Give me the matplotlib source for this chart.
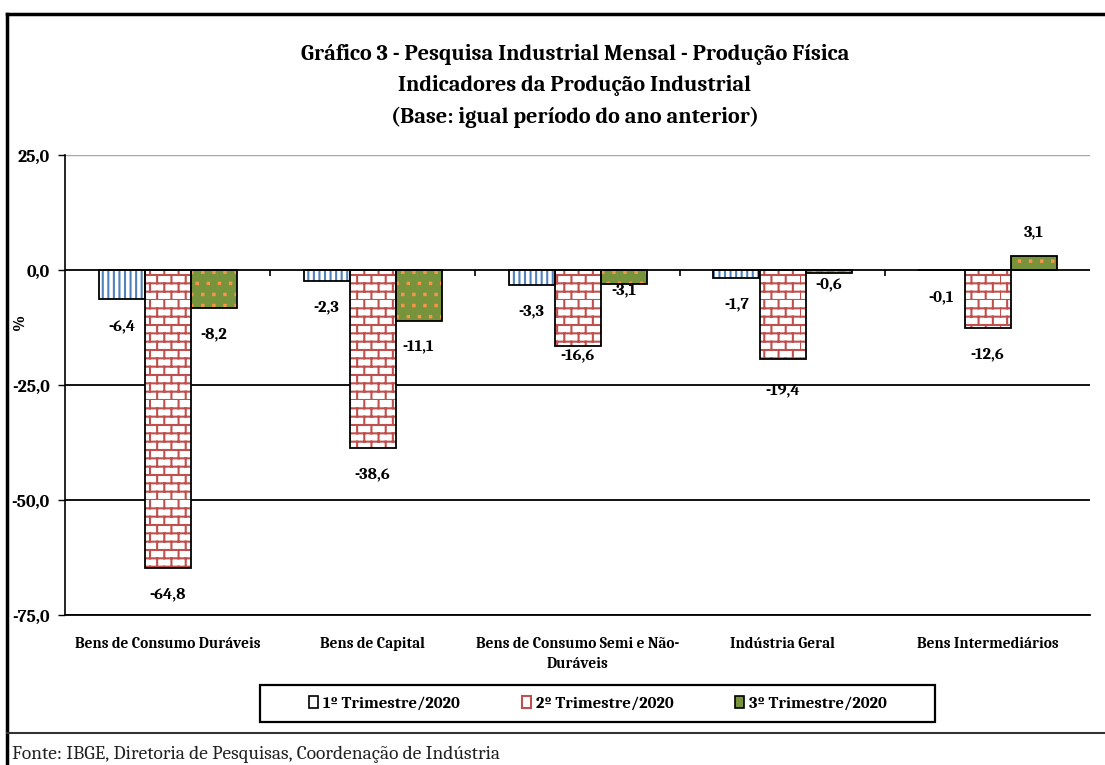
import warnings
import numpy as np
import matplotlib
matplotlib.use('Agg')
import matplotlib.pyplot as plt
from matplotlib import hatch as mhatch
from matplotlib.patches import Patch, Rectangle
from matplotlib.lines import Line2D

warnings.filterwarnings('ignore')

# ---------------- data ----------------
categories = ["Bens de Consumo Duráveis", "Bens de Capital",
              "Bens de Consumo Semi e Não-\nDuráveis", "Indústria Geral",
              "Bens Intermediários"]
q1_2020 = [-6.4, -2.3, -3.3, -1.7, -0.1]
q2_2020 = [-64.8, -38.6, -16.6, -19.4, -12.6]
q3_2020 = [-8.2, -11.1, -3.1, -0.6, 3.1]
series_names = ["1º Trimestre/2020", "2º Trimestre/2020", "3º Trimestre/2020"]
yticks = [25, 0, -25, -50, -75]

title = ("Gráfico 3 - Pesquisa Industrial Mensal - Produção Física\n"
         "Indicadores da Produção Industrial\n"
         "(Base: igual período do ano anterior)")
source = "Fonte: IBGE, Diretoria de Pesquisas, Coordenação de Indústria"

# label placement nudges (points, vertical) for labels placed off the default offset
label_nudge = {(1, 2): 12, (1, 3): -3, (2, 2): 15, (2, 3): 11}


# ---------------- custom hatches: brick ('b') and sparse dots ('d') ----------------
class BrickHatch(mhatch.HatchPatternBase):
    def __init__(self, hatch, density):
        self.rows = 12
        self.cols = 7
        if 'b' in hatch:
            self.num_vertices = self.rows * 2 + self.rows * self.cols * 2
        else:
            self.num_vertices = 0

    def set_vertices_and_codes(self, vertices, codes):
        k = 0
        for r in range(self.rows):
            y = r / self.rows
            vertices[k] = (0.0, y)
            vertices[k + 1] = (1.0, y)
            codes[k] = mhatch.Path.MOVETO
            codes[k + 1] = mhatch.Path.LINETO
            k += 2
        for r in range(self.rows):
            y0 = r / self.rows
            y1 = (r + 1) / self.rows
            for c in range(self.cols):
                xx = (c + 0.5 * (r % 2)) / self.cols
                vertices[k] = (xx, y0)
                vertices[k + 1] = (xx, y1)
                codes[k] = mhatch.Path.MOVETO
                codes[k + 1] = mhatch.Path.LINETO
                k += 2


class DotHatch(mhatch.HatchPatternBase):
    def __init__(self, hatch, density):
        self.n = 9
        self.s = 0.007
        if 'd' in hatch:
            self.num_vertices = self.n * self.n * 5
        else:
            self.num_vertices = 0

    def set_vertices_and_codes(self, vertices, codes):
        k = 0
        s = self.s
        for r in range(self.n):
            for c in range(self.n):
                cx = (c + 0.5 * (r % 2) + 0.25) / self.n
                cy = (r + 0.5) / self.n
                pts = [(cx - s, cy - s), (cx + s, cy - s), (cx + s, cy + s),
                       (cx - s, cy + s), (cx - s, cy - s)]
                for m, p in enumerate(pts):
                    vertices[k + m] = p
                    codes[k + m] = mhatch.Path.MOVETO if m == 0 else (
                        mhatch.Path.CLOSEPOLY if m == 4 else mhatch.Path.LINETO)
                k += 5


mhatch._hatch_types.append(BrickHatch)
mhatch._hatch_types.append(DotHatch)

# ---------------- style ----------------
FONT = ['Caladea', 'Liberation Serif', 'DejaVu Serif']
plt.rcParams['font.family'] = FONT
plt.rcParams['hatch.linewidth'] = 1.5

fig = plt.figure(figsize=(11.05, 7.65), dpi=100)
ax = fig.add_axes([65 / 1105, 1 - 615 / 765, 1025 / 1105, 460 / 765])

x = np.arange(len(categories))
w = 46 / 205

styles = [
    dict(face='white', hcol='#4F81BD', hatch='|||'),
    dict(face='white', hcol='#C0504D', hatch='b'),
    dict(face='#77933C', hcol='#F79646', hatch='d'),
]
all_series = [q1_2020, q2_2020, q3_2020]

for i, (vals, st) in enumerate(zip(all_series, styles)):
    pos = x + (i - 1) * w
    ax.bar(pos, vals, width=w, color=st['face'], edgecolor=st['hcol'],
           hatch=st['hatch'], linewidth=0, zorder=3)
    ax.bar(pos, vals, width=w, fill=False, edgecolor='black',
           linewidth=1.3, zorder=4)
    for j, (px, v) in enumerate(zip(pos, vals)):
        off = 17 if v > 0 else -19
        off += label_nudge.get((i, j), 0)
        ax.annotate(f"{v:.1f}".replace('.', ','), (px, v),
                    xytext=(0, off), textcoords='offset points',
                    ha='center', va='center', fontsize=12,
                    fontweight='bold', color='black', zorder=6)

ax.set_xlim(-0.5, len(categories) - 0.5)
ax.set_ylim(-75, 25)
ax.set_yticks(yticks)
ax.set_yticklabels([f"{t:.1f}".replace('.', ',') for t in yticks],
                   fontsize=13, fontweight='bold')
ax.tick_params(axis='y', length=5, width=1, pad=6)

ax.set_xticks(x)
ax.set_xticklabels(categories, fontsize=11, fontweight='bold',
                   linespacing=1.5, va='top')
ax.tick_params(axis='x', length=0, pad=16)

# gridlines
for t in yticks:
    if t == 25:
        ax.axhline(t, color='#A6A6A6', linewidth=1.0, zorder=1)
    elif t == 0:
        ax.axhline(t, color='black', linewidth=1.3, zorder=5)
    else:
        ax.axhline(t, color='black', linewidth=1.3, zorder=1)

# category-boundary tick marks on the zero axis
ax.vlines(x[:-1] + 0.5, 0, -1.3, color='black', linewidth=1.2, zorder=5)

for s in ['top', 'right']:
    ax.spines[s].set_visible(False)
ax.spines['left'].set_linewidth(1.2)
ax.spines['bottom'].set_linewidth(1.3)

fig.text(20 / 1105, 1 - 322 / 765, '%', rotation=90, ha='center',
         va='center', fontsize=12, fontweight='bold')

fig.text(575 / 1105, 1 - 86 / 765, title, ha='center', va='center',
         fontsize=16, fontweight='bold', linespacing=1.65)

# legend
handles = [
    Patch(facecolor='white', edgecolor='black', linewidth=1.2),
    Patch(facecolor='white', edgecolor='#C0504D', linewidth=1.5),
    Patch(facecolor='#77933C', edgecolor='black', linewidth=1.2),
]
leg = fig.legend(handles, series_names, ncol=3, loc='center',
                 bbox_to_anchor=(598 / 1105, 1 - 703.5 / 765),
                 frameon=False,
                 prop={'family': FONT, 'weight': 'bold', 'size': 12},
                 handlelength=0.55, handleheight=0.75, handletextpad=0.3,
                 columnspacing=3.7, borderpad=0.0)
fig.add_artist(Rectangle((260 / 1105, 1 - 722 / 765), 675 / 1105, 37 / 765,
                         transform=fig.transFigure, fill=False,
                         edgecolor='black', linewidth=1.6))

# outer frame
fig.add_artist(Line2D([7 / 1105, 7 / 1105], [0, 1 - 14 / 765],
                      transform=fig.transFigure, color='black', linewidth=2.5))
fig.add_artist(Line2D([7 / 1105, 1], [1 - 14 / 765, 1 - 14 / 765],
                      transform=fig.transFigure, color='black', linewidth=2.5))
fig.add_artist(Line2D([7 / 1105, 1], [1 - 733 / 765, 1 - 733 / 765],
                      transform=fig.transFigure, color='#333333', linewidth=1.5))

fig.text(12 / 1105, 1 - 754 / 765, source, ha='left', va='center',
         fontsize=14, color='#222222')

fig.savefig('out.png', dpi=100)
